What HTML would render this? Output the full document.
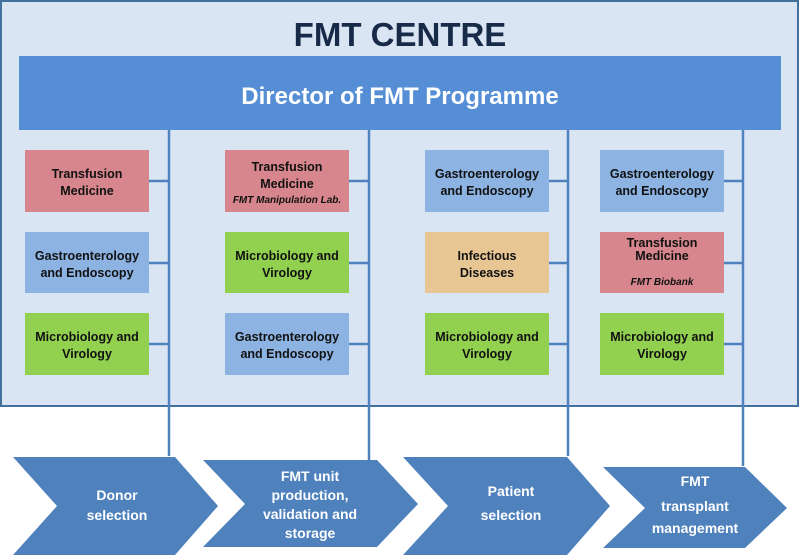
<!DOCTYPE html>
<html><head><meta charset="utf-8"><style>
html,body{margin:0;padding:0;background:#fff;}
svg{display:block;font-family:"Liberation Sans",sans-serif;}
.b{font-weight:bold;font-size:12.5px;fill:#111;}
.w{font-weight:bold;font-size:14px;fill:#fff;}
.i{font-style:italic;font-weight:bold;font-size:10px;fill:#111;}
</style></head><body>
<svg width="800" height="560" viewBox="0 0 800 560" xmlns="http://www.w3.org/2000/svg">
<rect x="1" y="1" width="797" height="405" fill="#dae5f4" stroke="#41719c" stroke-width="2"/>
<text x="400" y="46" text-anchor="middle" font-weight="bold" font-size="33" fill="#172a48">FMT CENTRE</text>
<rect x="19" y="56" width="762" height="74" fill="#558ed5"/>
<text x="400" y="104" text-anchor="middle" font-weight="bold" font-size="24" fill="#fff">Director of FMT Programme</text>
<g stroke="#4f81bd" stroke-width="2.5" fill="none">
<line x1="169" y1="130" x2="169" y2="456"/>
<line x1="369" y1="130" x2="369" y2="460"/>
<line x1="568" y1="130" x2="568" y2="456"/>
<line x1="743" y1="130" x2="743" y2="466"/>
<line x1="149" y1="181" x2="169" y2="181"/><line x1="149" y1="263" x2="169" y2="263"/><line x1="149" y1="344" x2="169" y2="344"/>
<line x1="349" y1="181" x2="369" y2="181"/><line x1="349" y1="263" x2="369" y2="263"/><line x1="349" y1="344" x2="369" y2="344"/>
<line x1="549" y1="181" x2="568" y2="181"/><line x1="549" y1="263" x2="568" y2="263"/><line x1="549" y1="344" x2="568" y2="344"/>
<line x1="724" y1="181" x2="743" y2="181"/><line x1="724" y1="263" x2="743" y2="263"/><line x1="724" y1="344" x2="743" y2="344"/>
</g>
<!-- col1 -->
<rect x="25" y="150" width="124" height="62" fill="#d6868c"/>
<text class="b" text-anchor="middle"><tspan x="87" y="178">Transfusion</tspan><tspan x="87" y="195">Medicine</tspan></text>
<rect x="25" y="232" width="124" height="61" fill="#8db3e2"/>
<text class="b" text-anchor="middle"><tspan x="87" y="260">Gastroenterology</tspan><tspan x="87" y="277">and Endoscopy</tspan></text>
<rect x="25" y="313" width="124" height="62" fill="#92d050"/>
<text class="b" text-anchor="middle"><tspan x="87" y="341">Microbiology and</tspan><tspan x="87" y="358">Virology</tspan></text>
<!-- col2 -->
<rect x="225" y="150" width="124" height="62" fill="#d6868c"/>
<text class="b" text-anchor="middle"><tspan x="287" y="171">Transfusion</tspan><tspan x="287" y="188">Medicine</tspan></text>
<text class="i" text-anchor="middle" x="287" y="203">FMT Manipulation Lab.</text>
<rect x="225" y="232" width="124" height="61" fill="#92d050"/>
<text class="b" text-anchor="middle"><tspan x="287" y="260">Microbiology and</tspan><tspan x="287" y="277">Virology</tspan></text>
<rect x="225" y="313" width="124" height="62" fill="#8db3e2"/>
<text class="b" text-anchor="middle"><tspan x="287" y="341">Gastroenterology</tspan><tspan x="287" y="358">and Endoscopy</tspan></text>
<!-- col3 -->
<rect x="425" y="150" width="124" height="62" fill="#8db3e2"/>
<text class="b" text-anchor="middle"><tspan x="487" y="178">Gastroenterology</tspan><tspan x="487" y="195">and Endoscopy</tspan></text>
<rect x="425" y="232" width="124" height="61" fill="#e8c694"/>
<text class="b" text-anchor="middle"><tspan x="487" y="260">Infectious</tspan><tspan x="487" y="277">Diseases</tspan></text>
<rect x="425" y="313" width="124" height="62" fill="#92d050"/>
<text class="b" text-anchor="middle"><tspan x="487" y="341">Microbiology and</tspan><tspan x="487" y="358">Virology</tspan></text>
<!-- col4 -->
<rect x="600" y="150" width="124" height="62" fill="#8db3e2"/>
<text class="b" text-anchor="middle"><tspan x="662" y="178">Gastroenterology</tspan><tspan x="662" y="195">and Endoscopy</tspan></text>
<rect x="600" y="232" width="124" height="61" fill="#d6868c"/>
<text class="b" text-anchor="middle"><tspan x="662" y="247">Transfusion</tspan><tspan x="662" y="260">Medicine</tspan></text>
<text class="i" text-anchor="middle" x="662" y="285" font-size="11">FMT Biobank</text>
<rect x="600" y="313" width="124" height="62" fill="#92d050"/>
<text class="b" text-anchor="middle"><tspan x="662" y="341">Microbiology and</tspan><tspan x="662" y="358">Virology</tspan></text>
<!-- chevrons -->
<g fill="#4f81bd">
<polygon points="13,457 175,457 218,506 175,555 13,555 57,506"/>
<polygon points="203,460 377,460 418,504 377,547 203,547 245,504"/>
<polygon points="403,457 567,457 610,506 567,555 403,555 448,506"/>
<polygon points="603,467 745,467 787,508 745,548 603,548 645,508"/>
</g>
<text class="w" text-anchor="middle"><tspan x="117" y="500">Donor</tspan><tspan x="117" y="520">selection</tspan></text>
<text class="w" text-anchor="middle"><tspan x="310" y="481">FMT unit</tspan><tspan x="310" y="500">production,</tspan><tspan x="310" y="519">validation and</tspan><tspan x="310" y="538">storage</tspan></text>
<text class="w" text-anchor="middle"><tspan x="511" y="496">Patient</tspan><tspan x="511" y="520">selection</tspan></text>
<text class="w" text-anchor="middle"><tspan x="695" y="486">FMT</tspan><tspan x="695" y="511">transplant</tspan><tspan x="695" y="533">management</tspan></text>
</svg>
</body></html>
